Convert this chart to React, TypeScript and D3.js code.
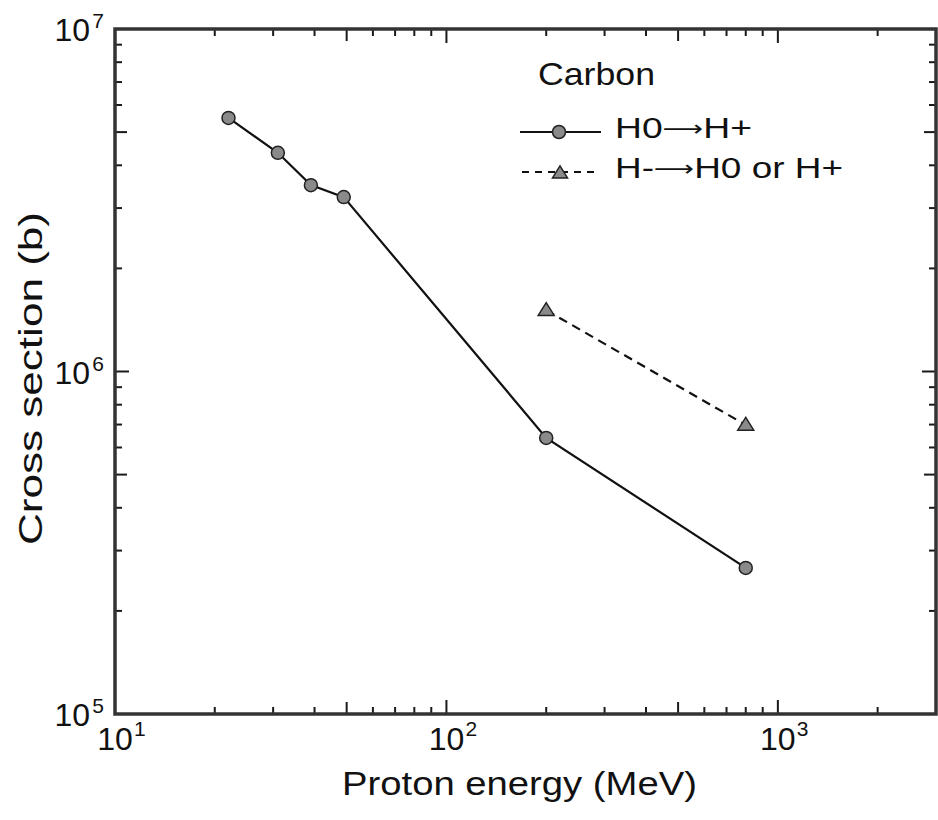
import React from "react";
import * as d3 from "d3";

// ---- data ----
const h0Energy = [22, 31, 39, 49, 200, 800];
const h0Cross = [5.5e6, 4.35e6, 3.5e6, 3.23e6, 6.4e5, 2.67e5];
const hmEnergy = [200, 800];
const hmCross = [1.51e6, 6.98e5];

const xMajorTicks = [10, 100, 1000];
const xMajorExp = ["1", "2", "3"];
const yMajorTicks = [1e5, 1e6, 1e7];
const yMajorExp = ["5", "6", "7"];

const legendTitle = "Carbon";
const seriesLabels = ["H0\u2192H+", "H-\u2192H0 or H+"];
const xTitle = "Proton energy (MeV)";
const yTitle = "Cross section (b)";

const W = 938;
const H = 820;
const FONT = "'Liberation Sans', Arial, Helvetica, sans-serif";

function LegendLabel({ label, x, y, len }: { label: string; x: number; y: number; len: number }) {
  const [a, b] = label.split("\u2192");
  return (
    <text x={x} y={y} fontSize={29} textLength={len} lengthAdjust="spacingAndGlyphs" fill="#111">
      <tspan>{a}</tspan>
      <tspan fontFamily="'DejaVu Sans', sans-serif" fontSize={22} dy={-2}>
        {"\u27F6"}
      </tspan>
      <tspan dy={2}>{b}</tspan>
    </text>
  );
}

export default function App() {
  const x = d3.scaleLog().domain([10, 3000]).range([115, 936]);
  const y = d3.scaleLog().domain([1e5, 1e7]).range([714, 29]);
  const [x0, x1] = x.range();
  const [y0, y1] = y.range();

  const line = d3
    .line<[number, number]>()
    .x((d) => x(d[0]))
    .y((d) => y(d[1]));

  const h0Pts: [number, number][] = h0Energy.map((e, i) => [e, h0Cross[i]]);
  const hmPts: [number, number][] = hmEnergy.map((e, i) => [e, hmCross[i]]);

  const xTicks: { v: number; len: number }[] = [];
  for (const dec of [10, 100, 1000]) {
    for (let m = 1; m <= 9; m++) {
      const v = dec * m;
      if (v > 3000) continue;
      xTicks.push({ v, len: m === 1 ? 14 : m === 5 ? 12 : 7 });
    }
  }
  const yTicks: { v: number; len: number }[] = [];
  for (const dec of [1e5, 1e6]) {
    for (let m = 1; m <= 9; m++) {
      yTicks.push({ v: dec * m, len: m === 1 ? 14 : m === 5 ? 12 : 7 });
    }
  }

  const tri = (cx: number, cy: number, s = 8) =>
    `M${cx},${cy - s * 0.95} L${cx + s},${cy + s * 0.65} L${cx - s},${cy + s * 0.65} Z`;

  const stroke = "#1a1a1a";

  return (
    <svg
      width={W}
      height={H}
      style={{ position: "absolute", left: 0, top: 0, background: "#fff" }}
      fontFamily={FONT}
    >
      <rect x={0} y={0} width={W} height={H} fill="#fff" />

      {xTicks.map((t, i) => (
        <g key={"xt" + i}>
          <line x1={x(t.v)} x2={x(t.v)} y1={y0} y2={y0 - t.len} stroke={stroke} strokeWidth={2} />
          <line x1={x(t.v)} x2={x(t.v)} y1={y1} y2={y1 + t.len} stroke={stroke} strokeWidth={2} />
        </g>
      ))}
      {yTicks.map((t, i) => (
        <g key={"yt" + i}>
          <line x1={x0} x2={x0 + t.len} y1={y(t.v)} y2={y(t.v)} stroke={stroke} strokeWidth={2} />
          <line x1={x1} x2={x1 - t.len} y1={y(t.v)} y2={y(t.v)} stroke={stroke} strokeWidth={2} />
        </g>
      ))}

      <rect
        x={x0}
        y={y1}
        width={x1 - x0}
        height={y0 - y1}
        fill="none"
        stroke="#333"
        strokeWidth={3.5}
      />

      {xMajorTicks.map((v, i) => (
        <g key={"xl" + i}>
          <text x={x(v)} y={750} fontSize={32} textAnchor="middle" fill="#111">
            10
          </text>
          <text x={x(v) + 19} y={736} fontSize={21} fill="#111">
            {xMajorExp[i]}
          </text>
        </g>
      ))}
      {yMajorTicks.map((v, i) => (
        <g key={"yl" + i}>
          <text x={90} y={y(v) + 12} fontSize={32} textAnchor="end" fill="#111">
            10
          </text>
          <text x={104} y={y(v) - 1} fontSize={21} textAnchor="end" fill="#111">
            {yMajorExp[i]}
          </text>
        </g>
      ))}

      <text x={342} y={795} fontSize={33} textLength={355} lengthAdjust="spacingAndGlyphs" fill="#111">
        {xTitle}
      </text>
      <text
        transform={`translate(42,545) rotate(-90)`}
        fontSize={33}
        textLength={333}
        lengthAdjust="spacingAndGlyphs"
        fill="#111"
      >
        {yTitle}
      </text>

      <path d={line(h0Pts) || ""} fill="none" stroke="#111" strokeWidth={2.2} />
      <path d={line(hmPts) || ""} fill="none" stroke="#111" strokeWidth={2.2} strokeDasharray="9,6" />
      {h0Pts.map((d, i) => (
        <circle key={"c" + i} cx={x(d[0])} cy={y(d[1])} r={6.5} fill="#8a8a8a" stroke="#222" strokeWidth={1.5} />
      ))}
      {hmPts.map((d, i) => (
        <path key={"t" + i} d={tri(x(d[0]), y(d[1]))} fill="#8a8a8a" stroke="#222" strokeWidth={1.5} />
      ))}

      <text x={538} y={85} fontSize={32} textLength={117} lengthAdjust="spacingAndGlyphs" fill="#111">
        {legendTitle}
      </text>
      <line x1={520} x2={601} y1={132} y2={132} stroke="#111" strokeWidth={2.2} />
      <circle cx={559} cy={132} r={6.5} fill="#8a8a8a" stroke="#222" strokeWidth={1.5} />
      <LegendLabel label={seriesLabels[0]} x={615} y={138} len={137} />
      <line x1={522} x2={600} y1={172} y2={172} stroke="#111" strokeWidth={2.2} strokeDasharray="7,6" />
      <path d={tri(560, 173, 7.5)} fill="#8a8a8a" stroke="#222" strokeWidth={1.5} />
      <LegendLabel label={seriesLabels[1]} x={615} y={178} len={228} />
    </svg>
  );
}
